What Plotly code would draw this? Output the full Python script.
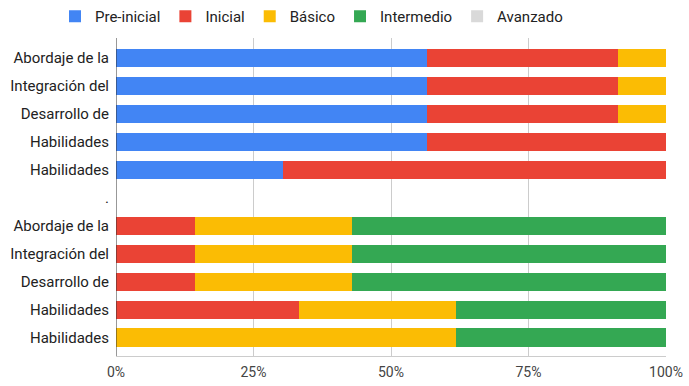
import plotly.graph_objects as go

categories = ["Abordaje de la", "Integración del", "Desarrollo de", "Habilidades", "Habilidades", ".",
              "Abordaje de la", "Integración del", "Desarrollo de", "Habilidades", "Habilidades"]
series_names = ["Pre-inicial", "Inicial", "Básico", "Intermedio", "Avanzado"]
pre_inicial = [13, 13, 13, 13, 7, None, 0, 0, 0, 0, 0]
inicial = [8, 8, 8, 10, 16, None, 1, 1, 1, 7, 0]
basico = [2, 2, 2, 0, 0, None, 2, 2, 2, 6, 13]
intermedio = [0, 0, 0, 0, 0, None, 4, 4, 4, 8, 8]
avanzado = [0, 0, 0, 0, 0, None, 0, 0, 0, 0, 0]
x_ticks = [0, 25, 50, 75, 100]

colors = ["#4285F4", "#EA4335", "#FBBC04", "#34A853", "#D9D9D9"]
values = [pre_inicial, inicial, basico, intermedio, avanzado]
positions = list(range(len(categories)))

fig = go.Figure()
for name, vals, col in zip(series_names, values, colors):
    fig.add_trace(go.Bar(
        y=positions, x=vals, name=name, orientation="h",
        marker=dict(color=col, line=dict(width=0)),
    ))

fig.update_layout(
    barmode="stack", barnorm="percent", bargap=0.35,
    width=689, height=386,
    margin=dict(l=116, r=23, t=38, b=30, autoexpand=False),
    paper_bgcolor="white", plot_bgcolor="white",
    font=dict(family="Roboto, Arial, sans-serif", size=15, color="#222222"),
    legend=dict(orientation="h", xref="container", yref="container",
                x=55 / 689, xanchor="left", y=1.0, yanchor="top",
                font=dict(size=15, color="#222222"), traceorder="normal",
                itemclick=False),
    showlegend=True,
)
fig.update_xaxes(range=[0, 100], tickvals=x_ticks, ticktext=[f"{v}%" for v in x_ticks],
                 showgrid=True, gridcolor="#CCCCCC", gridwidth=1,
                 zeroline=False, showline=True, linecolor="#CCCCCC", linewidth=1,
                 ticklabelstandoff=3,
                 tickfont=dict(size=14, color="#444444"), automargin=False)
fig.update_yaxes(range=[10.66, -0.72], tickvals=positions, ticktext=categories,
                 showgrid=False, zeroline=False, showline=False, automargin=False,
                 ticklabelstandoff=6, tickfont=dict(size=15, color="#222222"))
fig.add_shape(type="line", xref="x", yref="paper", x0=0, x1=0, y0=0, y1=1,
              line=dict(color="#333333", width=1))

fig.write_html("out.html", config={"displayModeBar": False},
               post_script="document.body.style.margin='0';")
